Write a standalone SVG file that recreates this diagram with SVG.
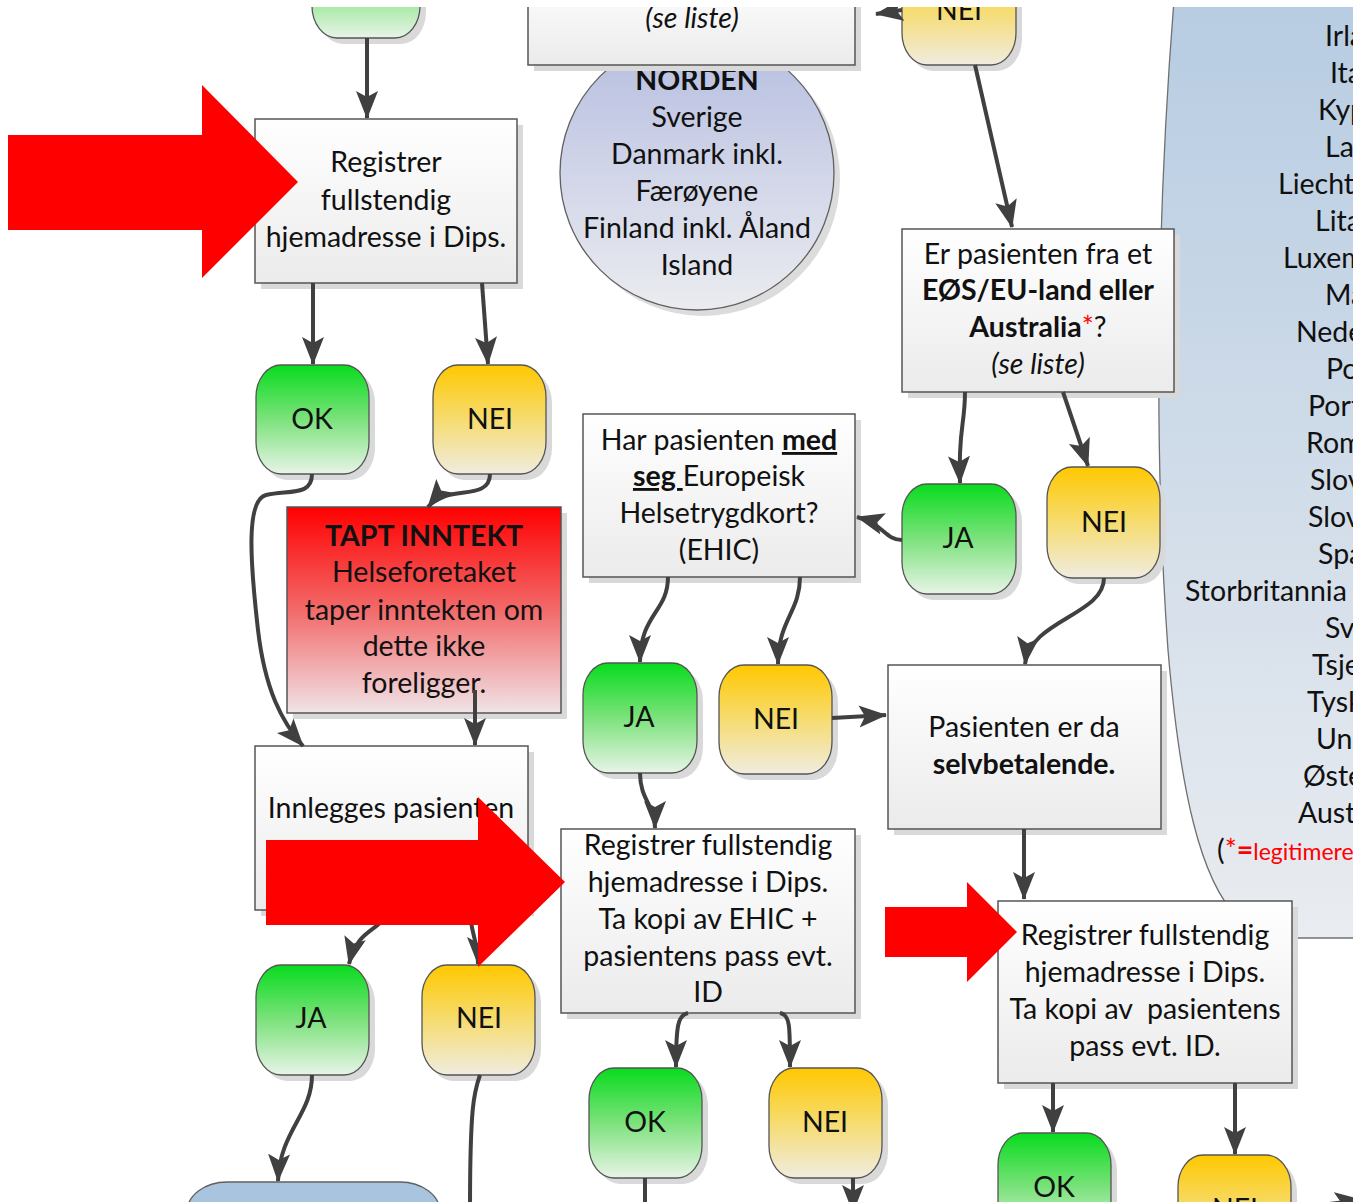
<svg xmlns="http://www.w3.org/2000/svg" width="1353" height="1202" viewBox="0 0 1353 1202">
<defs>
<linearGradient id="gBox" x1="0" y1="0" x2="0" y2="1"><stop offset="0" stop-color="#ffffff"/><stop offset="1" stop-color="#ebebeb"/></linearGradient>
<linearGradient id="gGreen" x1="0" y1="0" x2="0" y2="1"><stop offset="0" stop-color="#08dc1e"/><stop offset="0.5" stop-color="#7ce27c"/><stop offset="1" stop-color="#e8f4e8"/></linearGradient>
<linearGradient id="gYellow" x1="0" y1="0" x2="0" y2="1"><stop offset="0" stop-color="#ffc800"/><stop offset="0.5" stop-color="#f6dc70"/><stop offset="1" stop-color="#f0ece0"/></linearGradient>
<linearGradient id="gRed" x1="0" y1="0" x2="0" y2="1"><stop offset="0" stop-color="#ff0000"/><stop offset="0.5" stop-color="#f26a6a"/><stop offset="1" stop-color="#f0e4e8"/></linearGradient>
<linearGradient id="gNorden" x1="0" y1="0" x2="0" y2="1"><stop offset="0" stop-color="#b6bee0"/><stop offset="1" stop-color="#ebecf0"/></linearGradient>
<linearGradient id="gPanel" x1="0" y1="0" x2="0" y2="1"><stop offset="0" stop-color="#b7cce2"/><stop offset="1" stop-color="#e9ecf0"/></linearGradient>
<marker id="ah" markerUnits="userSpaceOnUse" markerWidth="28" markerHeight="24" refX="27" refY="12" orient="auto">
<path d="M0,1 L28,12 L0,23 L6,12 z" fill="#404040"/>
</marker>
<style>
.box{fill:url(#gBox);stroke:#555;stroke-width:1.5}
.sh{fill:#d9d9d9}
.pg{fill:url(#gGreen);stroke:#555;stroke-width:1.3}
.py{fill:url(#gYellow);stroke:#555;stroke-width:1.3}
.t{font-family:Lato,"Liberation Sans",sans-serif;font-size:28.5px;fill:#111;text-anchor:middle}
.l{text-anchor:start}
.b{font-weight:bold}
.i{font-style:italic}
.u{text-decoration:underline}
.c{fill:none;stroke:#404040;stroke-width:4;marker-end:url(#ah)}
.cn{fill:none;stroke:#404040;stroke-width:4}
.red{fill:#ff0000}
</style>
</defs>
<rect width="1353" height="1202" fill="#ffffff"/>

<g id="panel">
<path d="M1174,0 C1162,150 1150,400 1168,650 C1180,790 1200,880 1238,918 Q1256,937 1292,938 L1360,938 L1360,0 Z" fill="url(#gPanel)" stroke="#707070" stroke-width="1.3"/>
<g class="t l">
<text x="1325" y="46">Irland</text>
<text x="1330" y="83">Italia</text>
<text x="1318" y="120">Kypros</text>
<text x="1325" y="157">Latvia</text>
<text x="1278" y="194">Liechtenstein</text>
<text x="1315" y="231">Litauen</text>
<text x="1283" y="268">Luxemburg</text>
<text x="1325" y="305">Malta</text>
<text x="1296" y="342">Nederland</text>
<text x="1326" y="379">Polen</text>
<text x="1308" y="416">Portugal</text>
<text x="1306" y="453">Romania</text>
<text x="1310" y="490">Slovakia</text>
<text x="1308" y="527">Slovenia</text>
<text x="1318" y="564">Spania</text>
<text x="1185" y="601">Storbritannia</text>
<text x="1325" y="638">Sveits</text>
<text x="1312" y="675">Tsjekkia</text>
<text x="1307" y="712">Tyskland</text>
<text x="1316" y="749">Ungarn</text>
<text x="1303" y="786">Østerrike</text>
<text x="1298" y="823">Australia</text>
<text x="1217" y="860">(<tspan fill="#ff0000">*</tspan><tspan fill="#ff0000" class="b">=</tspan><tspan fill="#ff0000" font-size="23">legitimere</tspan></text>
</g>
</g>

<g id="norden">
<circle cx="703" cy="179" r="137" fill="#dcdcdc"/>
<circle cx="697" cy="173" r="137" fill="url(#gNorden)" stroke="#606060" stroke-width="1.3"/>
<text class="t b" x="697" y="90">NORDEN</text>
<text class="t" x="697" y="127">Sverige</text>
<text class="t" x="697" y="164">Danmark inkl.</text>
<text class="t" x="697" y="201">Færøyene</text>
<text class="t" x="697" y="238">Finland inkl. Åland</text>
<text class="t" x="697" y="275">Island</text>
</g>

<g id="topbox">
<rect class="sh" x="534" y="-20" width="327" height="91"/>
<rect class="box" x="528" y="-26" width="327" height="91"/>
<text class="t i" x="692" y="28">(se liste)</text>
</g>

<g id="pill-top-green">
<rect class="sh" x="318" y="-64" width="108" height="108" rx="25" ry="32"/>
<rect class="pg" x="312" y="-70" width="108" height="108" rx="25" ry="32"/>
</g>
<g id="pill-top-nei">
<rect class="sh" x="908" y="-39" width="114" height="110" rx="25" ry="32"/>
<rect class="py" x="902" y="-45" width="114" height="110" rx="25" ry="32"/>
<text class="t" x="959" y="20">NEI</text>
</g>

<g id="box-registrer1">
<rect class="sh" x="261" y="125" width="262" height="164"/>
<rect class="box" x="255" y="119" width="262" height="164"/>
<text class="t" x="386" y="172">Registrer</text>
<text class="t" x="386" y="210">fullstendig</text>
<text class="t" x="386" y="247">hjemadresse i Dips.</text>
</g>

<g id="box-eos">
<rect class="sh" x="908" y="235" width="272" height="163"/>
<rect class="box" x="902" y="229" width="272" height="163"/>
<text class="t" x="1038" y="264">Er pasienten fra et</text>
<text class="t b" x="1038" y="300">EØS/EU-land eller</text>
<text class="t" x="1038" y="337"><tspan class="b">Australia</tspan><tspan fill="#ff0000">*</tspan>?</text>
<text class="t i" x="1038" y="374">(se liste)</text>
</g>

<g id="ok1"><rect class="sh" x="262" y="371" width="113" height="109" rx="25" ry="32"/><rect class="pg" x="256" y="365" width="113" height="109" rx="25" ry="32"/><text class="t" x="312" y="429">OK</text></g>
<g id="nei1"><rect class="sh" x="439" y="371" width="113" height="109" rx="25" ry="32"/><rect class="py" x="433" y="365" width="113" height="109" rx="25" ry="32"/><text class="t" x="490" y="429">NEI</text></g>

<g id="box-ehic-q">
<rect class="sh" x="589" y="420" width="272" height="163"/>
<rect class="box" x="583" y="414" width="272" height="163"/>
<text class="t" x="719" y="450">Har pasienten <tspan class="b u">med</tspan></text>
<text class="t" x="719" y="486"><tspan class="b u">seg </tspan>Europeisk</text>
<text class="t" x="719" y="523">Helsetrygdkort?</text>
<text class="t" x="719" y="560">(EHIC)</text>
</g>

<g id="ja1"><rect class="sh" x="908" y="490" width="114" height="110" rx="25" ry="32"/><rect class="pg" x="902" y="484" width="114" height="110" rx="25" ry="32"/><text class="t" x="958" y="548">JA</text></g>
<g id="nei2"><rect class="sh" x="1053" y="473" width="113" height="111" rx="25" ry="32"/><rect class="py" x="1047" y="467" width="113" height="111" rx="25" ry="32"/><text class="t" x="1104" y="532">NEI</text></g>

<g id="box-tapt">
<rect class="sh" x="293" y="513" width="274" height="206"/>
<rect x="287" y="507" width="274" height="206" fill="url(#gRed)" stroke="#555" stroke-width="1.5"/>
<text class="t b" x="424" y="546">TAPT INNTEKT</text>
<text class="t" x="424" y="582">Helseforetaket</text>
<text class="t" x="424" y="620">taper inntekten om</text>
<text class="t" x="424" y="656">dette ikke</text>
<text class="t" x="424" y="693">foreligger.</text>
</g>

<g id="ja2"><rect class="sh" x="589" y="669" width="114" height="110" rx="25" ry="32"/><rect class="pg" x="583" y="663" width="114" height="110" rx="25" ry="32"/><text class="t" x="639" y="727">JA</text></g>
<g id="nei3"><rect class="sh" x="725" y="671" width="113" height="109" rx="25" ry="32"/><rect class="py" x="719" y="665" width="113" height="109" rx="25" ry="32"/><text class="t" x="776" y="729">NEI</text></g>

<g id="box-selv">
<rect class="sh" x="894" y="671" width="273" height="164"/>
<rect class="box" x="888" y="665" width="273" height="164"/>
<text class="t" x="1024" y="737">Pasienten er da</text>
<text class="t b" x="1024" y="774">selvbetalende.</text>
</g>

<g id="box-innlegges">
<rect class="sh" x="261" y="752" width="273" height="164"/>
<rect class="box" x="255" y="746" width="273" height="164"/>
<text class="t" x="391" y="818">Innlegges pasienten</text>
</g>

<g id="box-reg-ehic">
<rect class="sh" x="567" y="835" width="294" height="184"/>
<rect class="box" x="561" y="829" width="294" height="184"/>
<text class="t" x="708" y="855">Registrer fullstendig</text>
<text class="t" x="708" y="892">hjemadresse i Dips.</text>
<text class="t" x="708" y="929">Ta kopi av EHIC +</text>
<text class="t" x="708" y="966">pasientens pass evt.</text>
<text class="t" x="708" y="1002">ID</text>
</g>

<g id="box-reg-id">
<rect class="sh" x="1004" y="907" width="294" height="182"/>
<rect class="box" x="998" y="901" width="294" height="182"/>
<text class="t" x="1145" y="945">Registrer fullstendig</text>
<text class="t" x="1145" y="982">hjemadresse i Dips.</text>
<text class="t" x="1145" y="1019" xml:space="preserve">Ta kopi av  pasientens</text>
<text class="t" x="1145" y="1056">pass evt. ID.</text>
</g>

<g id="ja3"><rect class="sh" x="262" y="971" width="113" height="110" rx="25" ry="32"/><rect class="pg" x="256" y="965" width="113" height="110" rx="25" ry="32"/><text class="t" x="311" y="1028">JA</text></g>
<g id="nei4"><rect class="sh" x="428" y="971" width="113" height="110" rx="25" ry="32"/><rect class="py" x="422" y="965" width="113" height="110" rx="25" ry="32"/><text class="t" x="479" y="1028">NEI</text></g>
<g id="ok2"><rect class="sh" x="595" y="1074" width="113" height="110" rx="25" ry="32"/><rect class="pg" x="589" y="1068" width="113" height="110" rx="25" ry="32"/><text class="t" x="645" y="1132">OK</text></g>
<g id="nei5"><rect class="sh" x="775" y="1074" width="113" height="110" rx="25" ry="32"/><rect class="py" x="769" y="1068" width="113" height="110" rx="25" ry="32"/><text class="t" x="825" y="1132">NEI</text></g>
<g id="ok3"><rect class="sh" x="1004" y="1139" width="113" height="110" rx="25" ry="32"/><rect class="pg" x="998" y="1133" width="113" height="110" rx="25" ry="32"/><text class="t" x="1054" y="1197">OK</text></g>
<g id="nei6"><rect class="sh" x="1184" y="1161" width="113" height="110" rx="25" ry="32"/><rect class="py" x="1178" y="1155" width="113" height="110" rx="25" ry="32"/><text class="t" x="1235" y="1219">NEI</text></g>

<g id="bottom-blue">
<rect x="187" y="1182" width="253" height="80" rx="40" ry="30" fill="#a9c4de" stroke="#606060" stroke-width="1.3"/>
</g>

<g id="connectors">
<path class="c" d="M367,38 L367,118"/>
<path class="c" d="M313,283 L313,364"/>
<path class="c" d="M482,283 L488,364"/>
<path class="c" d="M312,474 C312,496 290,490 266,495 C246,500 250,560 258,630 C265,690 282,722 303,746"/>
<path class="c" d="M490,474 C490,496 462,490 446,496 C438,499 432,502 428,507"/>
<path class="c" d="M475,690 L475,745"/>
<path class="c" d="M385,910 C385,932 358,925 349,964"/>
<path class="c" d="M470,910 C470,932 478,940 478,964"/>
<path class="c" d="M312,1075 C312,1115 280,1130 278,1181"/>
<path class="cn" d="M480,1075 C474,1092 470,1105 470,1210"/>
<path class="c" d="M975,65 L1012,227"/>
<path class="c" d="M902,10 L876,14"/>
<path class="c" d="M965,392 C965,425 958,430 960,483"/>
<path class="c" d="M1063,392 L1088,466"/>
<path class="c" d="M902,540 C885,540 884,524 857,517"/>
<path class="c" d="M668,577 C668,612 640,614 640,662"/>
<path class="c" d="M800,577 C800,612 778,620 778,664"/>
<path class="c" d="M640,773 C640,800 655,805 655,828"/>
<path class="c" d="M832,718 L886,715"/>
<path class="c" d="M1104,578 C1104,615 1030,620 1025,664"/>
<path class="c" d="M1024,829 L1024,899"/>
<path class="c" d="M688,1013 C678,1015 676,1025 676,1067"/>
<path class="c" d="M780,1013 C790,1015 790,1025 790,1067"/>
<path class="cn" d="M645,1178 L645,1210"/>
<path class="c" d="M853,1178 L853,1212"/>
<path class="c" d="M1053,1083 L1053,1132"/>
<path class="c" d="M1235,1083 L1235,1154"/>
<path class="c" d="M1296,1208 L1362,1200"/>
</g>

<g id="red-arrows">
<polygon class="red" points="8,135 202,135 202,85 298,182 202,278 202,230 8,230"/>
<polygon class="red" points="266,840 478,840 478,797 565,882 478,967 478,925 266,925"/>
<polygon class="red" points="885,907 967,907 967,882 1017,932 967,982 967,957 885,957"/>
</g>

<rect x="0" y="0" width="1353" height="7" fill="#ffffff"/>
</svg>
